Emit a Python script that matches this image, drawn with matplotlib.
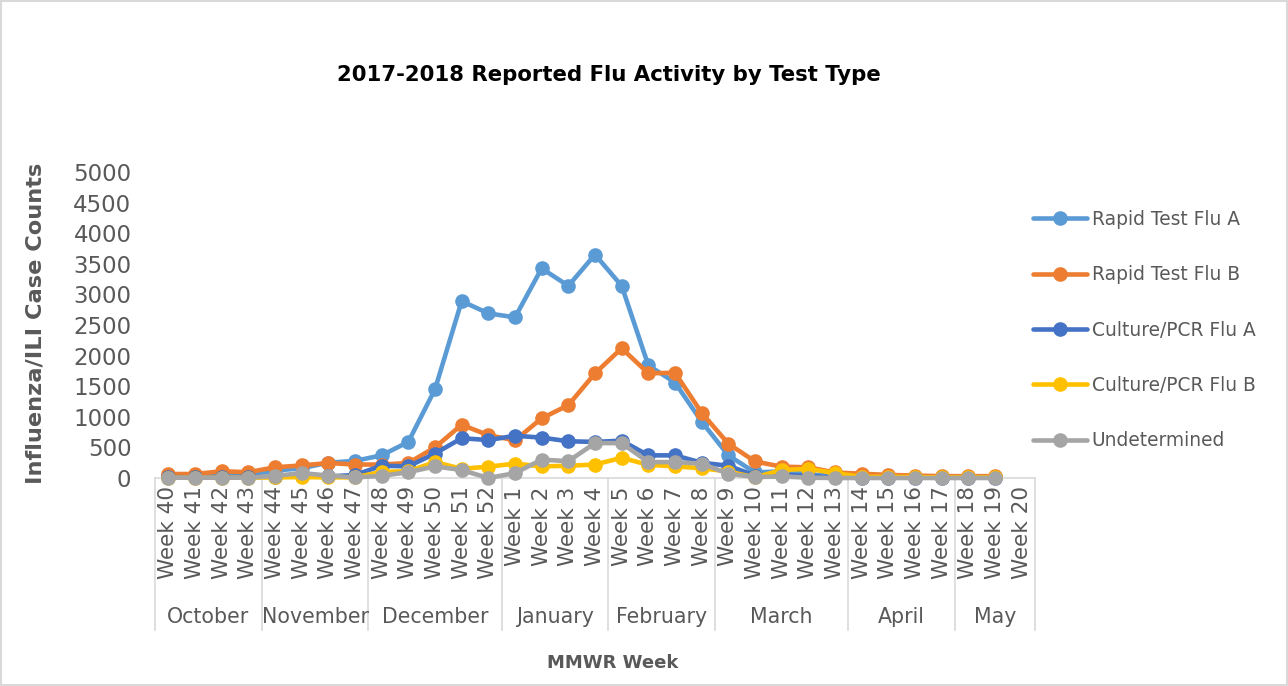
import numpy as np
import matplotlib
matplotlib.use("Agg")
import matplotlib.pyplot as plt
import matplotlib.transforms as mtransforms
from matplotlib.patches import Rectangle

weeks = ["Week 40", "Week 41", "Week 42", "Week 43", "Week 44", "Week 45", "Week 46", "Week 47",
         "Week 48", "Week 49", "Week 50", "Week 51", "Week 52", "Week 1", "Week 2", "Week 3",
         "Week 4", "Week 5", "Week 6", "Week 7", "Week 8", "Week 9", "Week 10", "Week 11",
         "Week 12", "Week 13", "Week 14", "Week 15", "Week 16", "Week 17", "Week 18", "Week 19",
         "Week 20"]
months = ["October", "November", "December", "January", "February", "March", "April", "May"]
month_sizes = [4, 4, 5, 4, 4, 5, 4, 3]

nan = np.nan
rapid_a = [40, 40, 60, 60, 120, 160, 250, 280, 370, 590, 1450, 2890, 2690, 2625, 3425, 3140,
           3650, 3140, 1840, 1560, 920, 370, 90, 110, 60, 30, 20, 15, 10, 10, 10, 10, nan]
rapid_b = [65, 65, 110, 95, 175, 205, 245, 220, 220, 245, 500, 870, 700, 615, 975, 1190,
           1710, 2120, 1710, 1720, 1065, 560, 270, 185, 175, 90, 70, 50, 40, 30, 30, 30, nan]
culture_a = [15, 10, 15, 15, 20, 30, 25, 50, 200, 190, 400, 650, 620, 690, 660, 600,
             590, 610, 370, 370, 250, 200, 40, 60, 30, 10, 5, 5, 5, 5, 5, 5, nan]
culture_b = [5, 5, 5, 5, 10, 15, 10, 10, 100, 110, 260, 150, 185, 235, 190, 200,
             220, 330, 215, 190, 160, 105, 10, 130, 150, 80, 20, 20, 15, 10, 10, 10, nan]
undetermined = [5, 5, 5, 5, 35, 80, 40, 10, 35, 95, 190, 130, 0, 80, 300, 275,
                570, 570, 260, 260, 235, 70, 15, 25, 5, 0, 0, 0, 0, 0, 0, 0, nan]

series = [
    ("Rapid Test Flu A", rapid_a, "#5B9BD5"),
    ("Rapid Test Flu B", rapid_b, "#ED7D31"),
    ("Culture/PCR Flu A", culture_a, "#4472C4"),
    ("Culture/PCR Flu B", culture_b, "#FFC000"),
    ("Undetermined", undetermined, "#A5A5A5"),
]

W, H = 1288, 686
fig = plt.figure(figsize=(W / 100, H / 100), dpi=100)
fig.patches.append(Rectangle((0.001, 0.001), 0.998, 0.998, transform=fig.transFigure,
                             fill=False, edgecolor="#D9D9D9", linewidth=1.5))

left, right, top, bottom = 155, 1035, 172, 478
ax = fig.add_axes([left / W, 1 - bottom / H, (right - left) / W, (bottom - top) / H])

x = np.arange(len(weeks))
handles = []
for name, vals, col in series:
    h, = ax.plot(x, vals, color=col, lw=3.3, marker="o", ms=9.5, label=name,
                 solid_capstyle="round", clip_on=False, zorder=3)
    handles.append(h)

txt = "#595959"
ax.set_xlim(-0.5, len(weeks) - 0.5)
ax.set_ylim(0, 5000)
ax.set_yticks(np.arange(0, 5001, 500))
ax.tick_params(axis="y", length=0, pad=17, labelsize=16.5, labelcolor=txt)
ax.set_xticks(x)
ax.set_xticklabels(weeks, rotation=90, va="top", ha="center")
ax.tick_params(axis="x", length=0, pad=6, labelsize=15.5, labelcolor=txt)
for s in ["top", "right", "left"]:
    ax.spines[s].set_visible(False)
ax.spines["bottom"].set_color("#D9D9D9")
ax.spines["bottom"].set_linewidth(1.2)

# month separators and labels
trans = mtransforms.blended_transform_factory(ax.transData, ax.transAxes)
sep_y = -(630 - bottom) / (bottom - top)
lab_y = -(617 - bottom) / (bottom - top)
pos = 0
bounds = [0]
for m, n in zip(months, month_sizes):
    ax.text(pos + n / 2 - 0.5, lab_y, m, transform=trans, ha="center", va="center",
            fontsize=14.8, color=txt)
    pos += n
    bounds.append(pos)
for b in bounds:
    ax.plot([b - 0.5, b - 0.5], [0, sep_y], transform=trans, color="#D9D9D9", lw=1.2,
            clip_on=False)

fig.text(609 / W, 1 - 75 / H, "2017-2018 Reported Flu Activity by Test Type",
         ha="center", va="center", fontsize=15.3, fontweight="bold", color="black")
fig.text(36 / W, 1 - 323 / H, "Influenza/ILI Case Counts", rotation=90, ha="center",
         va="center", fontsize=16.2, fontweight="bold", color=txt)
fig.text(613 / W, 1 - 663 / H, "MMWR Week", ha="center", va="center", fontsize=13,
         fontweight="bold", color=txt)

leg = fig.legend(handles=handles, loc="upper left",
                 bbox_to_anchor=(1033 / W, 1 - 210 / H), frameon=False,
                 fontsize=13.4, labelcolor=txt, handlelength=2.9, handletextpad=0.25,
                 labelspacing=1.95, borderaxespad=0, borderpad=0)

fig.savefig("out.png", dpi=100)
